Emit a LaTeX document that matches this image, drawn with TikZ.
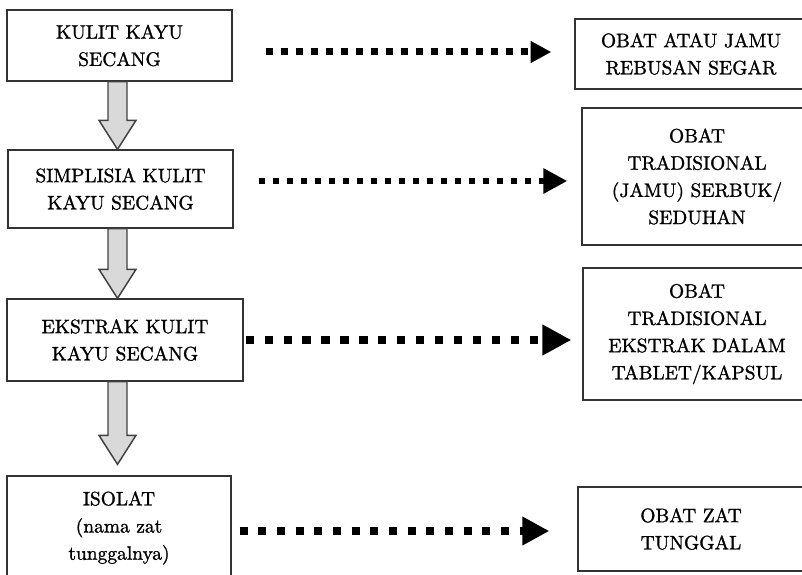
\documentclass[tikz,border=0pt]{standalone}
\usepackage{fontspec}
\setmainfont{lmroman10-regular.otf}[FakeBold=1.2]
\usetikzlibrary{arrows.meta,calc}
\newcommand\flowtextstyle{\fontsize{14.6}{20.4}\selectfont}
\newcommand\flowpx{0.75pt}
\newcommand\flowshaft{9.5}
\newcommand\flowhead{18.5}
\newcommand\flowheadlen{29}
\newcommand\blockarrow[3]{
  \path (#1.south -| shaftx) coordinate (ba top) ;
  \path ($(#2.north -| shaftx) + (0, -#3)$) coordinate (ba tip) ;
  \draw[blockarrow] (ba tip) -- ++ (-\flowhead, -\flowheadlen) -- ++ (\flowhead - \flowshaft, 0)
    -- ($(ba top) + (-\flowshaft, 0)$) -- ++ (2 * \flowshaft, 0)
    -- ($(ba tip) + (\flowshaft, -\flowheadlen)$) -- ++ (\flowhead - \flowshaft, 0) -- cycle ;
}

\begin{document}
\begin{tikzpicture}[x=0.75pt, y=-0.75pt,
    flowbox/.style={draw=black!80, line width=1pt, inner sep=0pt, align=center, font=\flowtextstyle},
    blockarrow/.style={draw=black!75, line width=1.1pt, fill=gray!30, line join=miter},
    dotarrow/.style n args={3}{line width=#1pt, dash pattern=on #1pt off #2pt,
      -{Triangle[length=#3pt, width=#3pt]}}]
    \useasboundingbox (0, 0) rectangle (802, 574) ;
    \clip (0, 0) rectangle (802, 574) ;
    \coordinate (shaftx) at (117.5, 0) ;
    % left column
    \node[flowbox, minimum width=225*\flowpx, minimum height=71*\flowpx] (kulit) at (119.5, 45.5) {KULIT KAYU\\SECANG} ;
    \node[flowbox, minimum width=225*\flowpx, minimum height=78*\flowpx] (simplisia) at (120.5, 189) {SIMPLISIA KULIT\\KAYU SECANG} ;
    \node[flowbox, minimum width=236*\flowpx, minimum height=82*\flowpx] (ekstrak) at (125, 340) {EKSTRAK KULIT\\KAYU SECANG} ;
    \node[flowbox, minimum width=224*\flowpx, minimum height=104*\flowpx] (isolat) at (119, 528) {ISOLAT\\(nama zat\\tunggalnya)} ;
    % right column
    \node[flowbox, minimum width=232*\flowpx, minimum height=70*\flowpx] (rebusan) at (691, 54) {OBAT ATAU JAMU\\REBUSAN SEGAR} ;
    \node[flowbox, minimum width=230*\flowpx, minimum height=137*\flowpx] (serbuk) at (697, 176.5) {OBAT\\TRADISIONAL\\(JAMU) SERBUK/\\SEDUHAN} ;
    \node[flowbox, minimum width=228*\flowpx, minimum height=132*\flowpx] (tablet) at (697, 334) {OBAT\\TRADISIONAL\\EKSTRAK DALAM\\TABLET/KAPSUL} ;
    \node[flowbox, minimum width=226*\flowpx, minimum height=84*\flowpx] (tunggal) at (691, 529) {OBAT ZAT\\TUNGGAL} ;
    \blockarrow{kulit}{simplisia}{0}
    \blockarrow{simplisia}{ekstrak}{0}
    \blockarrow{ekstrak}{isolat}{11}
    \coordinate (row1) at (0, 52) ;
    \coordinate (row2) at (0, 181) ;
    \coordinate (row3) at (0, 340) ;
    \coordinate (row4) at (0, 531) ;
    \draw[dotarrow={5.25}{6}{15.5}, shorten <=33*\flowpx, shorten >=23*\flowpx] (kulit.east |- row1) -- (rebusan.west |- row1) ;
    \draw[dotarrow={5}{5.5}{18}, shorten <=25*\flowpx, shorten >=14*\flowpx] (simplisia.east |- row2) -- (serbuk.west |- row2) ;
    \draw[dotarrow={6.2}{8}{21.75}, shorten <=2*\flowpx, shorten >=11*\flowpx] (ekstrak.east |- row3) -- (tablet.west |- row3) ;
    \draw[dotarrow={6}{8}{20.25}, shorten <=8*\flowpx, shorten >=28*\flowpx] (isolat.east |- row4) -- (tunggal.west |- row4) ;
\end{tikzpicture}
\end{document}
